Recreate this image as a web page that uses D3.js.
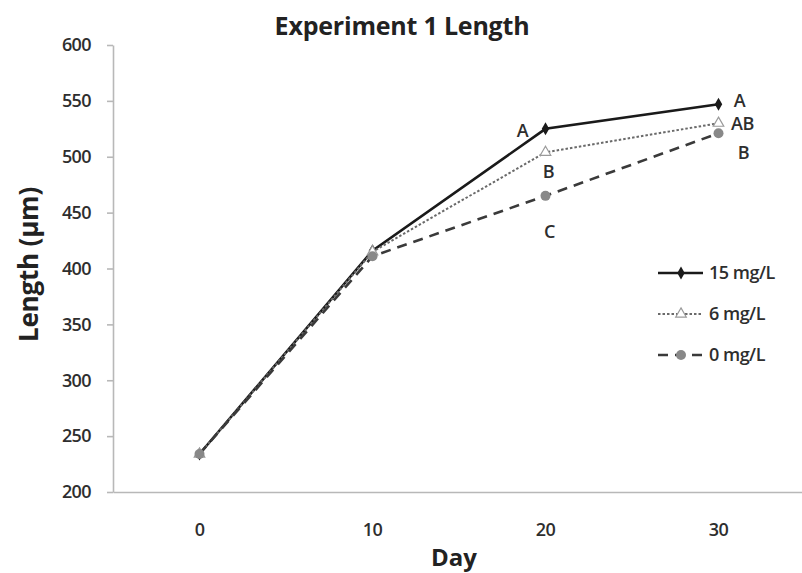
<!DOCTYPE html>
<html>
<head>
<meta charset="utf-8">
<script src="https://cdn.jsdelivr.net/npm/d3@7"></script>
<style>
  html, body { margin: 0; padding: 0; background: #fff; }
  svg { display: block; font-family: "Open Sans", "Liberation Sans", sans-serif; }
</style>
</head>
<body>
<svg id="chart" width="802" height="573"></svg>
<script>
// Mean larval length by day for each treatment concentration
const days = ["0", "10", "20", "30"];
const yTicks = [200, 250, 300, 350, 400, 450, 500, 550, 600];
const len15 = [234, 416, 525, 547];
const len6 = [234, 415, 504, 530];
const len0 = [234, 411, 465, 521];
// Significance letters per series (blank where none is shown)
const letters15 = ["", "", "A", "A"];
const letters6 = ["", "", "B", "AB"];
const letters0 = ["", "", "C", "B"];

const series = [
  { name: "15 mg/L", values: len15, letters: letters15, color: "#1a1a1a", dash: null, width: 2.6, marker: "diamond" },
  { name: "6 mg/L", values: len6, letters: letters6, color: "#6a6a6a", dash: "2.5,2", width: 2, marker: "triangle" },
  { name: "0 mg/L", values: len0, letters: letters0, color: "#3a3a3a", dash: "10,7", width: 2.6, marker: "circle" }
];

const svg = d3.select("#chart");
const margin = { left: 113, right: -3, top: 45, bottom: 81 };
const W = 802, H = 573;

const x = d3.scaleBand().domain(days).range([margin.left, W - margin.right]);
const y = d3.scaleLinear().domain([200, 600]).range([H - margin.bottom, margin.top]);
const cx = d => x(d) + x.bandwidth() / 2;

const tickStyle = sel => sel.attr("font-size", 18).attr("font-weight", 600).attr("fill", "#2e2e2e")
  .attr("font-family", "Open Sans, sans-serif").attr("letter-spacing", "-0.6");

// Axes
const yAxis = svg.append("g")
  .attr("transform", `translate(${margin.left},0)`)
  .call(d3.axisLeft(y).tickValues(yTicks).tickSize(6).tickSizeOuter(0).tickPadding(16));
yAxis.select(".domain").attr("stroke", "#b8b8b8").attr("stroke-width", 1.6);
yAxis.selectAll(".tick line").attr("stroke", "#b8b8b8").attr("stroke-width", 1.6);
yAxis.selectAll(".tick text").call(tickStyle);

const xAxis = svg.append("g")
  .attr("transform", `translate(0,${y(200)})`)
  .call(d3.axisBottom(x).tickSize(0).tickPadding(31));
xAxis.select(".domain").attr("stroke", "#b8b8b8").attr("stroke-width", 1.6);
xAxis.selectAll(".tick text").call(tickStyle);

// Titles
svg.append("text").attr("x", 402).attr("y", 35).attr("text-anchor", "middle")
  .attr("font-size", 25).attr("font-weight", "bold").attr("fill", "#222")
  .attr("letter-spacing", "-0.2").text("Experiment 1 Length");
svg.append("text").attr("x", 454).attr("y", 566).attr("text-anchor", "middle")
  .attr("font-size", 24).attr("font-weight", "bold").attr("fill", "#222").text("Day");
svg.append("text").attr("transform", `translate(38,${(y(200) + y(600)) / 2 - 4}) rotate(-90)`)
  .attr("text-anchor", "middle").attr("font-size", 26).attr("font-weight", "bold")
  .attr("fill", "#222").attr("letter-spacing", "-0.2").text("Length (µm)");

// Marker drawing helper
function drawMarker(g, type, px, py) {
  if (type === "diamond") {
    g.append("path").attr("d", d3.symbol(d3.symbolDiamond, 48)())
      .attr("transform", `translate(${px},${py})`).attr("fill", "#1a1a1a");
  } else if (type === "triangle") {
    g.append("path").attr("d", d3.symbol(d3.symbolTriangle, 48)())
      .attr("transform", `translate(${px},${py})`).attr("fill", "#fff")
      .attr("stroke", "#9a9a9a").attr("stroke-width", 1.2);
  } else {
    g.append("circle").attr("cx", px).attr("cy", py).attr("r", 5).attr("fill", "#888");
  }
}

const line = d3.line().x((d, i) => cx(days[i])).y(d => y(d));

// Series drawn in legend order, so the 0 mg/L series ends up on top
series.forEach(s => {
  const g = svg.append("g");
  g.append("path").datum(s.values).attr("d", line).attr("fill", "none")
    .attr("stroke", s.color).attr("stroke-width", s.width)
    .attr("stroke-dasharray", s.dash);
  s.values.forEach((v, i) => drawMarker(g, s.marker, cx(days[i]), y(v)));
});

// Significance letters, placed beside each point
function letter(txt, px, py) {
  if (!txt) return;
  svg.append("text").attr("x", px).attr("y", py).attr("text-anchor", "middle")
    .attr("font-size", 18).attr("font-weight", 600).attr("fill", "#2e2e2e")
    .attr("letter-spacing", "-0.5").text(txt);
}
// Day 20
letter(letters15[2], cx("20") - 23, y(len15[2]) + 8);
letter(letters6[2], cx("20") + 3, y(len6[2]) + 26);
letter(letters0[2], cx("20") + 4, y(len0[2]) + 42);
// Day 30
letter(letters15[3], cx("30") + 21, y(len15[3]) + 3);
letter(letters6[3], cx("30") + 24, y(len6[3]) + 7);
letter(letters0[3], cx("30") + 25, y(len0[3]) + 26);

// Legend
const legend = svg.append("g");
series.forEach((s, i) => {
  const ly = 273 + i * 41;
  const lg = legend.append("g");
  lg.append("line").attr("x1", 658).attr("x2", 703).attr("y1", ly).attr("y2", ly)
    .attr("stroke", s.color).attr("stroke-width", s.width)
    .attr("stroke-dasharray", s.dash);
  drawMarker(lg, s.marker, 681, ly);
  lg.append("text").attr("x", 709).attr("y", ly + 6).attr("font-size", 18)
    .attr("font-weight", 600).attr("fill", "#2e2e2e").attr("letter-spacing", "-0.5")
    .text(s.name);
});
</script>
</body>
</html>
